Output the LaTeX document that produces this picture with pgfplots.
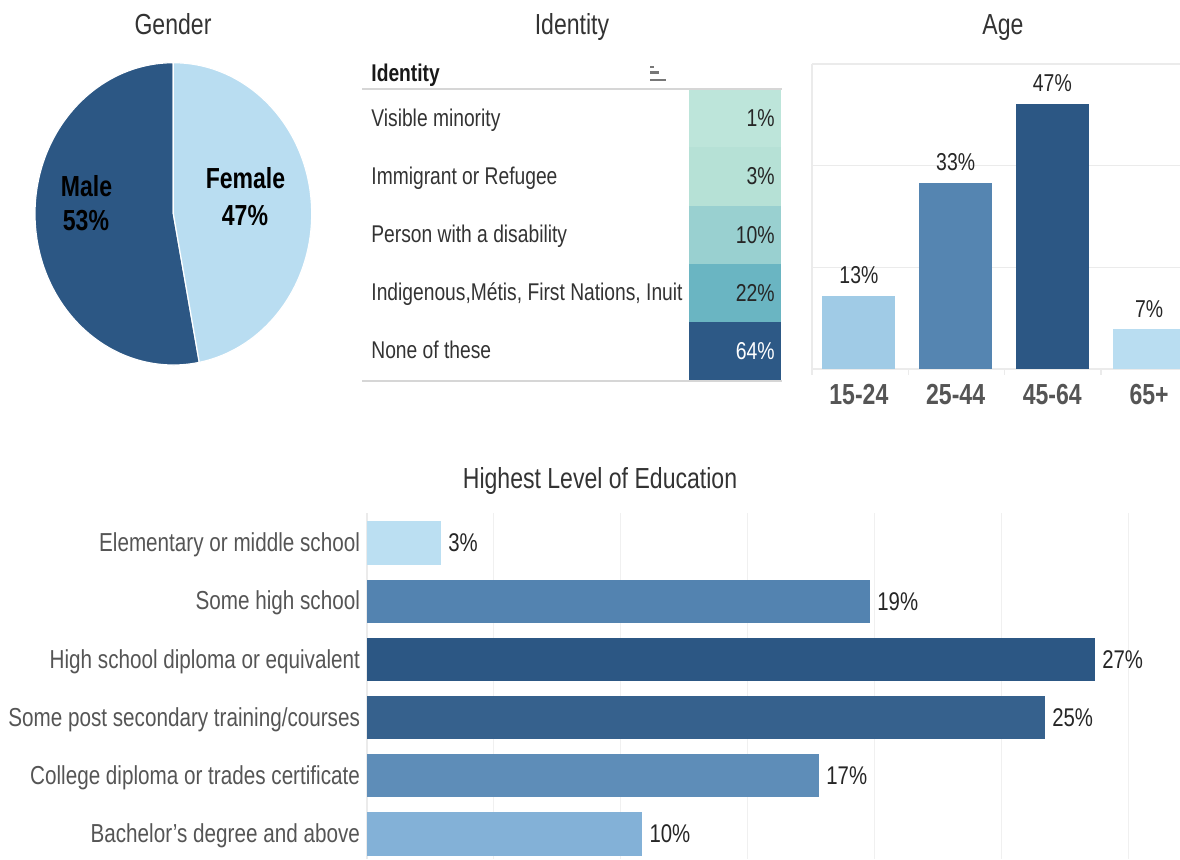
\documentclass[border=0pt]{standalone}
\usepackage{fontspec}
\setmainfont[FakeStretch=0.795]{Liberation Sans}
\usepackage{pgfplots}
\pgfplotsset{compat=1.18}
\pgfplotsset{/pgf/number format/assume math mode=true}

\definecolor{dk}{HTML}{2C5784}
\definecolor{lt}{HTML}{B9DDF1}
\definecolor{a1}{HTML}{A0CBE6}
\definecolor{a2}{HTML}{5585B1}
\definecolor{a3}{HTML}{2C5784}
\definecolor{a4}{HTML}{B9DDF1}
\definecolor{e1}{HTML}{BBDFF2}
\definecolor{e2}{HTML}{5383B0}
\definecolor{e3}{HTML}{2C5784}
\definecolor{e4}{HTML}{36618D}
\definecolor{e5}{HTML}{5E8DB8}
\definecolor{e6}{HTML}{83B1D7}
\definecolor{t1}{HTML}{BDE5DA}
\definecolor{t2}{HTML}{B6E1D6}
\definecolor{t3}{HTML}{99D0D0}
\definecolor{t4}{HTML}{6AB5C2}
\definecolor{t5}{HTML}{2D5986}
\definecolor{gridc}{HTML}{EBEBEB}
\definecolor{gride}{HTML}{F0F0F0}
\definecolor{linec}{HTML}{D6D6D6}
\definecolor{labc}{HTML}{555555}
\definecolor{iconc}{HTML}{777777}
\definecolor{titc}{HTML}{333333}

\newcommand{\ftitle}{\fontsize{14.5}{17}\selectfont}
\newcommand{\flab}{\fontsize{12.1}{14}\selectfont}
\newcommand{\fedu}{\fontsize{13}{15}\selectfont}
\newcommand{\fval}{\fontsize{12.2}{14}\selectfont}
\newcommand{\fedv}{\fontsize{12.8}{15}\selectfont}
\newcommand{\fbig}{\bfseries\fontsize{14.5}{17}\selectfont}

\def\male{53}
\def\female{47}

\begin{document}
\begin{tikzpicture}
\useasboundingbox (0,0) rectangle (590pt,-429.5pt);

% ---------- Gender pie ----------
\begin{axis}[at={(17.5pt,-182.5pt)}, anchor=south west, scale only axis,
  width=138.35pt, height=151.15pt, xmin=-1, xmax=1, ymin=-1, ymax=1,
  hide axis, clip=false]
\path[fill=dk, draw=white, line width=0.6pt] (axis cs:0,0) -- (axis cs:0,1)
  arc[start angle=90, end angle={90+3.6*\male}, x radius=69.175pt, y radius=75.575pt] -- cycle;
\path[fill=lt, draw=white, line width=0.6pt] (axis cs:0,0) -- (axis cs:0,1)
  arc[start angle=90, end angle={90-3.6*\female}, x radius=69.175pt, y radius=75.575pt] -- cycle;
\end{axis}

% ---------- Identity table ----------
\begin{axis}[at={(344.5pt,-190pt)}, anchor=south west, scale only axis,
  width=46pt, height=145.35pt, xmin=0, xmax=1, ymin=0.5, ymax=5.5, y dir=reverse,
  hide axis, xbar, bar width=1, clip=false, point meta=explicit,
  nodes near coords={\pgfmathprintnumber{\pgfplotspointmeta}\%},
  every node near coord/.append style={anchor=east, font=\fval, text=black!85, inner sep=0pt, xshift=-3pt}]
\addplot[fill=t1, draw=none, bar shift=0pt] coordinates {(1,1) [1]};
\addplot[fill=t2, draw=none, bar shift=0pt] coordinates {(1,2) [3]};
\addplot[fill=t3, draw=none, bar shift=0pt] coordinates {(1,3) [10]};
\addplot[fill=t4, draw=none, bar shift=0pt] coordinates {(1,4) [22]};
\addplot[fill=t5, draw=none, bar shift=0pt, every node near coord/.append style={text=white}] coordinates {(1,5) [64]};
\end{axis}

% ---------- Age ----------
\begin{axis}[at={(406pt,-184.5pt)}, anchor=south west, scale only axis,
  width=184pt, height=152.5pt, xmin=-0.485, xmax=3.32, ymin=0, ymax=54,
  ybar, bar width=0.755,
  axis x line*=bottom, axis y line*=left,
  axis line style={-, draw=gridc, line width=0.6pt},
  xtick={0,1,2,3}, xticklabels={15-24,25-44,45-64,65+},
  xticklabel style={anchor=base, yshift=-17.5pt, font=\fbig, text=labc},
  ytick={0,18,36,54}, yticklabels={},
  ymajorgrids, grid style={gridc, line width=0.6pt},
  major tick length=0pt,
  nodes near coords={\pgfmathprintnumber{\pgfplotspointmeta}\%},
  every node near coord/.append style={anchor=base, yshift=5.85pt, font=\fval, text=black!85}]
\addplot[fill=a1, draw=none, bar shift=0pt] coordinates {(0,13)};
\addplot[fill=a2, draw=none, bar shift=0pt] coordinates {(1,33)};
\addplot[fill=a3, draw=none, bar shift=0pt] coordinates {(2,47)};
\addplot[fill=a4, draw=none, bar shift=0pt] coordinates {(3,7)};
\end{axis}

% ---------- Education ----------
\begin{axis}[at={(183.5pt,-429.5pt)}, anchor=south west, scale only axis,
  width=405pt, height=173pt, xmin=0, xmax=30, ymin=-0.515, ymax=5.43, y dir=reverse,
  xbar, bar width=0.74,
  axis x line*=bottom, axis y line*=left,
  x axis line style={draw=none}, y axis line style={-, draw=gridc, line width=0.6pt},
  xtick={4.7,9.4,14.1,18.8,23.5,28.2}, xticklabels={},
  xmajorgrids, grid style={gride, line width=0.6pt},
  ytick={0,1,2,3,4,5},
  yticklabels={Elementary or middle school, Some high school, High school diploma or equivalent, Some post secondary training/courses, College diploma or trades certificate, Bachelor’s degree and above},
  yticklabel style={font=\fedu, text=labc, yshift=-1pt},
  major tick length=0pt,
  nodes near coords={\pgfmathprintnumber[fixed,precision=0]{\pgfplotspointmeta}\%},
  every node near coord/.append style={anchor=west, font=\fedv, text=black!85, inner sep=1pt, xshift=2.5pt}]
\addplot[fill=e1, draw=none, bar shift=0pt] coordinates {(2.74,0)};
\addplot[fill=e2, draw=none, bar shift=0pt] coordinates {(18.63,1)};
\addplot[fill=e3, draw=none, bar shift=0pt] coordinates {(26.96,2)};
\addplot[fill=e4, draw=none, bar shift=0pt] coordinates {(25.11,3)};
\addplot[fill=e5, draw=none, bar shift=0pt] coordinates {(16.74,4)};
\addplot[fill=e6, draw=none, bar shift=0pt] coordinates {(10.19,5)};
\end{axis}

% ---------- Text and decorations (pixel coordinates) ----------
\begin{scope}[x=0.5pt, y=-0.5pt]
\node[anchor=base, font=\ftitle, text=titc] at (173,34) {Gender};
\node[anchor=base, font=\ftitle, text=titc] at (572,34) {Identity};
\node[anchor=base, font=\ftitle, text=titc] at (1003,34) {Age};
\node[anchor=base, font=\ftitle, text=titc] at (600,488.5) {Highest Level of Education};

\node[anchor=base, font=\fbig, text=black] at (86.5,196.7) {Male};
\node[anchor=base, font=\fbig, text=black] at (86,230) {53\%};
\node[anchor=base, font=\fbig, text=black] at (245.5,188.3) {Female};
\node[anchor=base, font=\fbig, text=black] at (245,225) {47\%};

\node[anchor=base west, font=\bfseries\flab, text=black!90, inner sep=0pt] at (371,81.5) {Identity};
\fill[iconc] (650,66) rectangle (654.3,68);
\fill[iconc] (650,71.3) rectangle (659,73.8);
\fill[iconc] (650,78.5) rectangle (665.7,81);
\draw[linec, line width=0.8pt] (362,89) -- (782,89);
\draw[linec, line width=0.8pt] (362,381) -- (782,381);

\node[anchor=base west, font=\flab, text=titc, inner sep=0pt] at (371,126) {Visible minority};
\node[anchor=base west, font=\flab, text=titc, inner sep=0pt] at (371,184.2) {Immigrant or Refugee};
\node[anchor=base west, font=\flab, text=titc, inner sep=0pt] at (371,242.4) {Person with a disability};
\node[anchor=base west, font=\flab, text=titc, inner sep=0pt] at (371,300.6) {Indigenous,Métis, First Nations, Inuit};
\node[anchor=base west, font=\flab, text=titc, inner sep=0pt] at (371,358.8) {None of these};

\foreach \sx in {812,908.5,1004.5,1101}{
  \draw[gridc, line width=0.6pt] (\sx,369) -- (\sx,375);
}
\end{scope}
\end{tikzpicture}
\end{document}
